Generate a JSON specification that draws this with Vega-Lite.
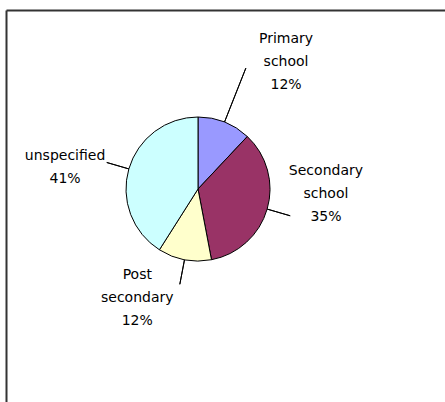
{
  "$schema": "https://vega.github.io/schema/vega-lite/v6.json",
  "width": 439,
  "height": 392,
  "autosize": "none",
  "padding": {"left": 6, "top": 10, "right": 0, "bottom": 0},
  "background": "white",
  "view": {"stroke": "transparent", "strokeWidth": 0},
  "config": {"view": {"stroke": null, "strokeWidth": 0}},
  "data": {"values": [
    {"category": "Primary school", "label": "Primary\nschool\n12%", "percent": 12, "order": 1},
    {"category": "Secondary school", "label": "Secondary\nschool\n35%", "percent": 35, "order": 2},
    {"category": "Post secondary", "label": "Post\nsecondary\n12%", "percent": 12, "order": 3},
    {"category": "unspecified", "label": "unspecified\n41%", "percent": 41, "order": 4}
  ]},
  "layer": [
    {
      "mark": {"type": "point", "opacity": 0},
      "encoding": {
        "x": {"field": "order", "type": "quantitative",
          "axis": {"orient": "top", "grid": false, "ticks": false, "labels": false, "title": null, "domainColor": "#333333", "domainWidth": 2}},
        "y": {"field": "percent", "type": "quantitative",
          "axis": {"orient": "left", "grid": false, "ticks": false, "labels": false, "title": null, "domainColor": "#333333", "domainWidth": 2}}
      }
    },
    {
      "mark": {"type": "arc", "radius": 72, "stroke": "#000000", "strokeWidth": 1, "xOffset": -27.5, "yOffset": -17},
      "encoding": {
        "theta": {"field": "percent", "type": "quantitative", "stack": true},
        "order": {"field": "order", "type": "quantitative"},
        "color": {"field": "category", "type": "nominal", "legend": null,
          "scale": {"domain": ["Primary school", "Secondary school", "Post secondary", "unspecified"],
                    "range": ["#9999FF", "#993366", "#FFFFCC", "#CCFFFF"]}}
      }
    },
    {
      "transform": [
        {"fold": ["percent", "percent"], "as": ["k", "v"]},
        {"stack": "v", "groupby": [], "sort": [{"field": "order", "order": "ascending"}], "as": ["s0", "s1"]},
        {"aggregate": [{"op": "max", "field": "s0", "as": "mid"}], "groupby": ["category", "label"]},
        {"filter": {"field": "category", "equal": "Primary school"}}
      ],
      "encoding": {"theta": {"field": "mid", "type": "quantitative", "scale": {"domain": [0, 200]}}},
      "layer": [
        {"mark": {"type": "arc", "radius": 130, "radius2": 72, "filled": false, "stroke": "#000000", "strokeWidth": 1, "xOffset": -27.5, "yOffset": -17},
         "encoding": {"theta2": {"field": "mid"}}},
        {"mark": {"type": "text", "radius": 140, "dx": 9, "dy": -37, "lineBreak": "\n", "lineHeight": 23, "font": "DejaVu Sans", "fontSize": 14, "align": "center", "baseline": "middle", "fill": "#000000"},
         "encoding": {"text": {"field": "label"}}}
      ]
    },
    {
      "transform": [
        {"fold": ["percent", "percent"], "as": ["k", "v"]},
        {"stack": "v", "groupby": [], "sort": [{"field": "order", "order": "ascending"}], "as": ["s0", "s1"]},
        {"aggregate": [{"op": "max", "field": "s0", "as": "mid"}], "groupby": ["category", "label"]},
        {"filter": {"field": "category", "equal": "Secondary school"}}
      ],
      "encoding": {"theta": {"field": "mid", "type": "quantitative", "scale": {"domain": [0, 200]}}},
      "layer": [
        {"mark": {"type": "arc", "radius": 96, "radius2": 72, "filled": false, "stroke": "#000000", "strokeWidth": 1, "xOffset": -27.5, "yOffset": -17},
         "encoding": {"theta2": {"field": "mid"}}},
        {"mark": {"type": "text", "radius": 140, "dx": -34, "dy": -74, "lineBreak": "\n", "lineHeight": 23, "font": "DejaVu Sans", "fontSize": 14, "align": "center", "baseline": "middle", "fill": "#000000"},
         "encoding": {"text": {"field": "label"}}}
      ]
    },
    {
      "transform": [
        {"fold": ["percent", "percent"], "as": ["k", "v"]},
        {"stack": "v", "groupby": [], "sort": [{"field": "order", "order": "ascending"}], "as": ["s0", "s1"]},
        {"aggregate": [{"op": "max", "field": "s0", "as": "mid"}], "groupby": ["category", "label"]},
        {"filter": {"field": "category", "equal": "Post secondary"}}
      ],
      "encoding": {"theta": {"field": "mid", "type": "quantitative", "scale": {"domain": [0, 200]}}},
      "layer": [
        {"mark": {"type": "arc", "radius": 97, "radius2": 72, "filled": false, "stroke": "#000000", "strokeWidth": 1, "xOffset": -27.5, "yOffset": -17},
         "encoding": {"theta2": {"field": "mid"}}},
        {"mark": {"type": "text", "radius": 140, "dx": -62, "dy": -69, "lineBreak": "\n", "lineHeight": 23, "font": "DejaVu Sans", "fontSize": 14, "align": "center", "baseline": "middle", "fill": "#000000"},
         "encoding": {"text": {"field": "label"}}}
      ]
    },
    {
      "transform": [
        {"fold": ["percent", "percent"], "as": ["k", "v"]},
        {"stack": "v", "groupby": [], "sort": [{"field": "order", "order": "ascending"}], "as": ["s0", "s1"]},
        {"aggregate": [{"op": "max", "field": "s0", "as": "mid"}], "groupby": ["category", "label"]},
        {"filter": {"field": "category", "equal": "unspecified"}}
      ],
      "encoding": {"theta": {"field": "mid", "type": "quantitative", "scale": {"domain": [0, 200]}}},
      "layer": [
        {"mark": {"type": "arc", "radius": 95, "radius2": 72, "filled": false, "stroke": "#000000", "strokeWidth": 1, "xOffset": -27.5, "yOffset": -17},
         "encoding": {"theta2": {"field": "mid"}}},
        {"mark": {"type": "text", "radius": 140, "dx": -26, "dy": -11, "lineBreak": "\n", "lineHeight": 23, "font": "DejaVu Sans", "fontSize": 14, "align": "center", "baseline": "middle", "fill": "#000000"},
         "encoding": {"text": {"field": "label"}}}
      ]
    }
  ],
  "resolve": {"scale": {"theta": "independent"}}
}
